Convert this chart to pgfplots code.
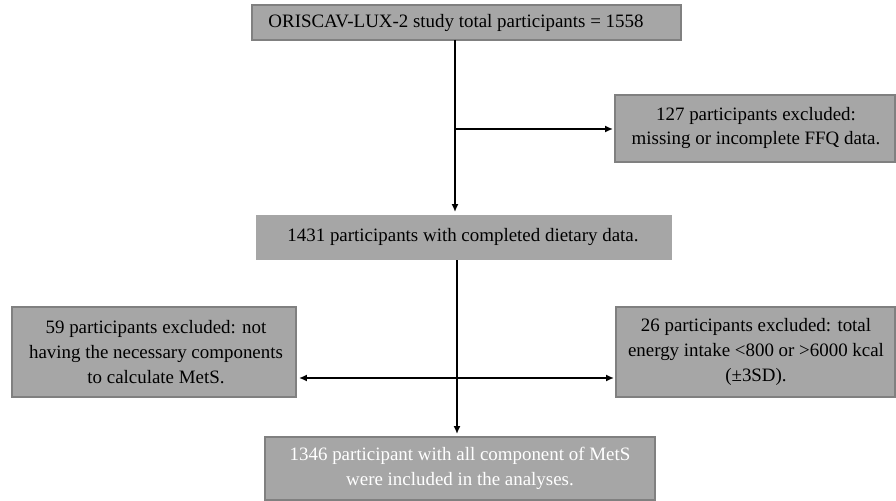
\documentclass[border=0pt]{standalone}
\usepackage{pgfplots}
\pgfplotsset{compat=1.18}
\usetikzlibrary{arrows.meta}
\usepackage{fontspec}
\setmainfont{Liberation Serif}
\newfontfamily\flowfont{Liberation Serif}
\definecolor{boxfill}{HTML}{A6A6A6}
\definecolor{boxline}{HTML}{808080}
\tikzset{flowtext/.style={font=\flowfont\fontsize{19}{25}\selectfont, align=center, inner sep=0pt},
  flowarrow/.style={black, line width=1.5pt, -{Latex[length=8pt,width=7pt]}}}
\begin{document}
\begin{tikzpicture}
\begin{axis}[
  scale only axis, width=896bp, height=501bp,
  xmin=0, xmax=896, ymin=0, ymax=501, y dir=reverse,
  axis lines=none, clip=false,
]
\addplot[draw=none] coordinates {(0,0)(896,501)};
% boxes
\addplot[fill=boxfill, draw=boxline, line width=1.2pt] coordinates {(252,5)(681,5)(681,40)(252,40)} -- cycle;
\addplot[fill=boxfill, draw=boxline, line width=1.2pt] coordinates {(615,95)(895,95)(895,162)(615,162)} -- cycle;
\addplot[fill=boxfill, draw=none] coordinates {(256,215)(672,215)(672,260)(256,260)} -- cycle;
\addplot[fill=boxfill, draw=boxline, line width=1.2pt] coordinates {(12,307)(296,307)(296,397)(12,397)} -- cycle;
\addplot[fill=boxfill, draw=boxline, line width=1.2pt] coordinates {(616,307)(895,307)(895,397)(616,397)} -- cycle;
\addplot[fill=boxfill, draw=boxline, line width=1.2pt] coordinates {(265,437)(655,437)(655,500)(265,500)} -- cycle;
% arrows
\addplot[flowarrow] coordinates {(455,40)(455,212)};
\addplot[flowarrow] coordinates {(455,129)(613,129)};
\addplot[flowarrow] coordinates {(457,260)(457,434)};
\addplot[flowarrow] coordinates {(457,378)(299,378)};
\addplot[flowarrow] coordinates {(457,378)(614,378)};
% texts
\node[flowtext] at (axis cs:456,23) {ORISCAV-LUX-2 study total participants = 1558};
\node[flowtext] at (axis cs:756,128) {127 participants excluded:\\missing or incomplete FFQ data.};
\node[flowtext] at (axis cs:463,237) {1431 participants with completed dietary data.};
\node[flowtext] at (axis cs:156,352) {59 participants excluded: not\\having the necessary components\\to calculate MetS.};
\node[flowtext] at (axis cs:756,352) {26 participants excluded: total\\energy intake <800 or >6000 kcal\\(\textpm3SD).};
\node[flowtext, text=white] at (axis cs:460,468) {1346 participant with all component of MetS\\were included in the analyses.};
\end{axis}
\end{tikzpicture}
\end{document}
